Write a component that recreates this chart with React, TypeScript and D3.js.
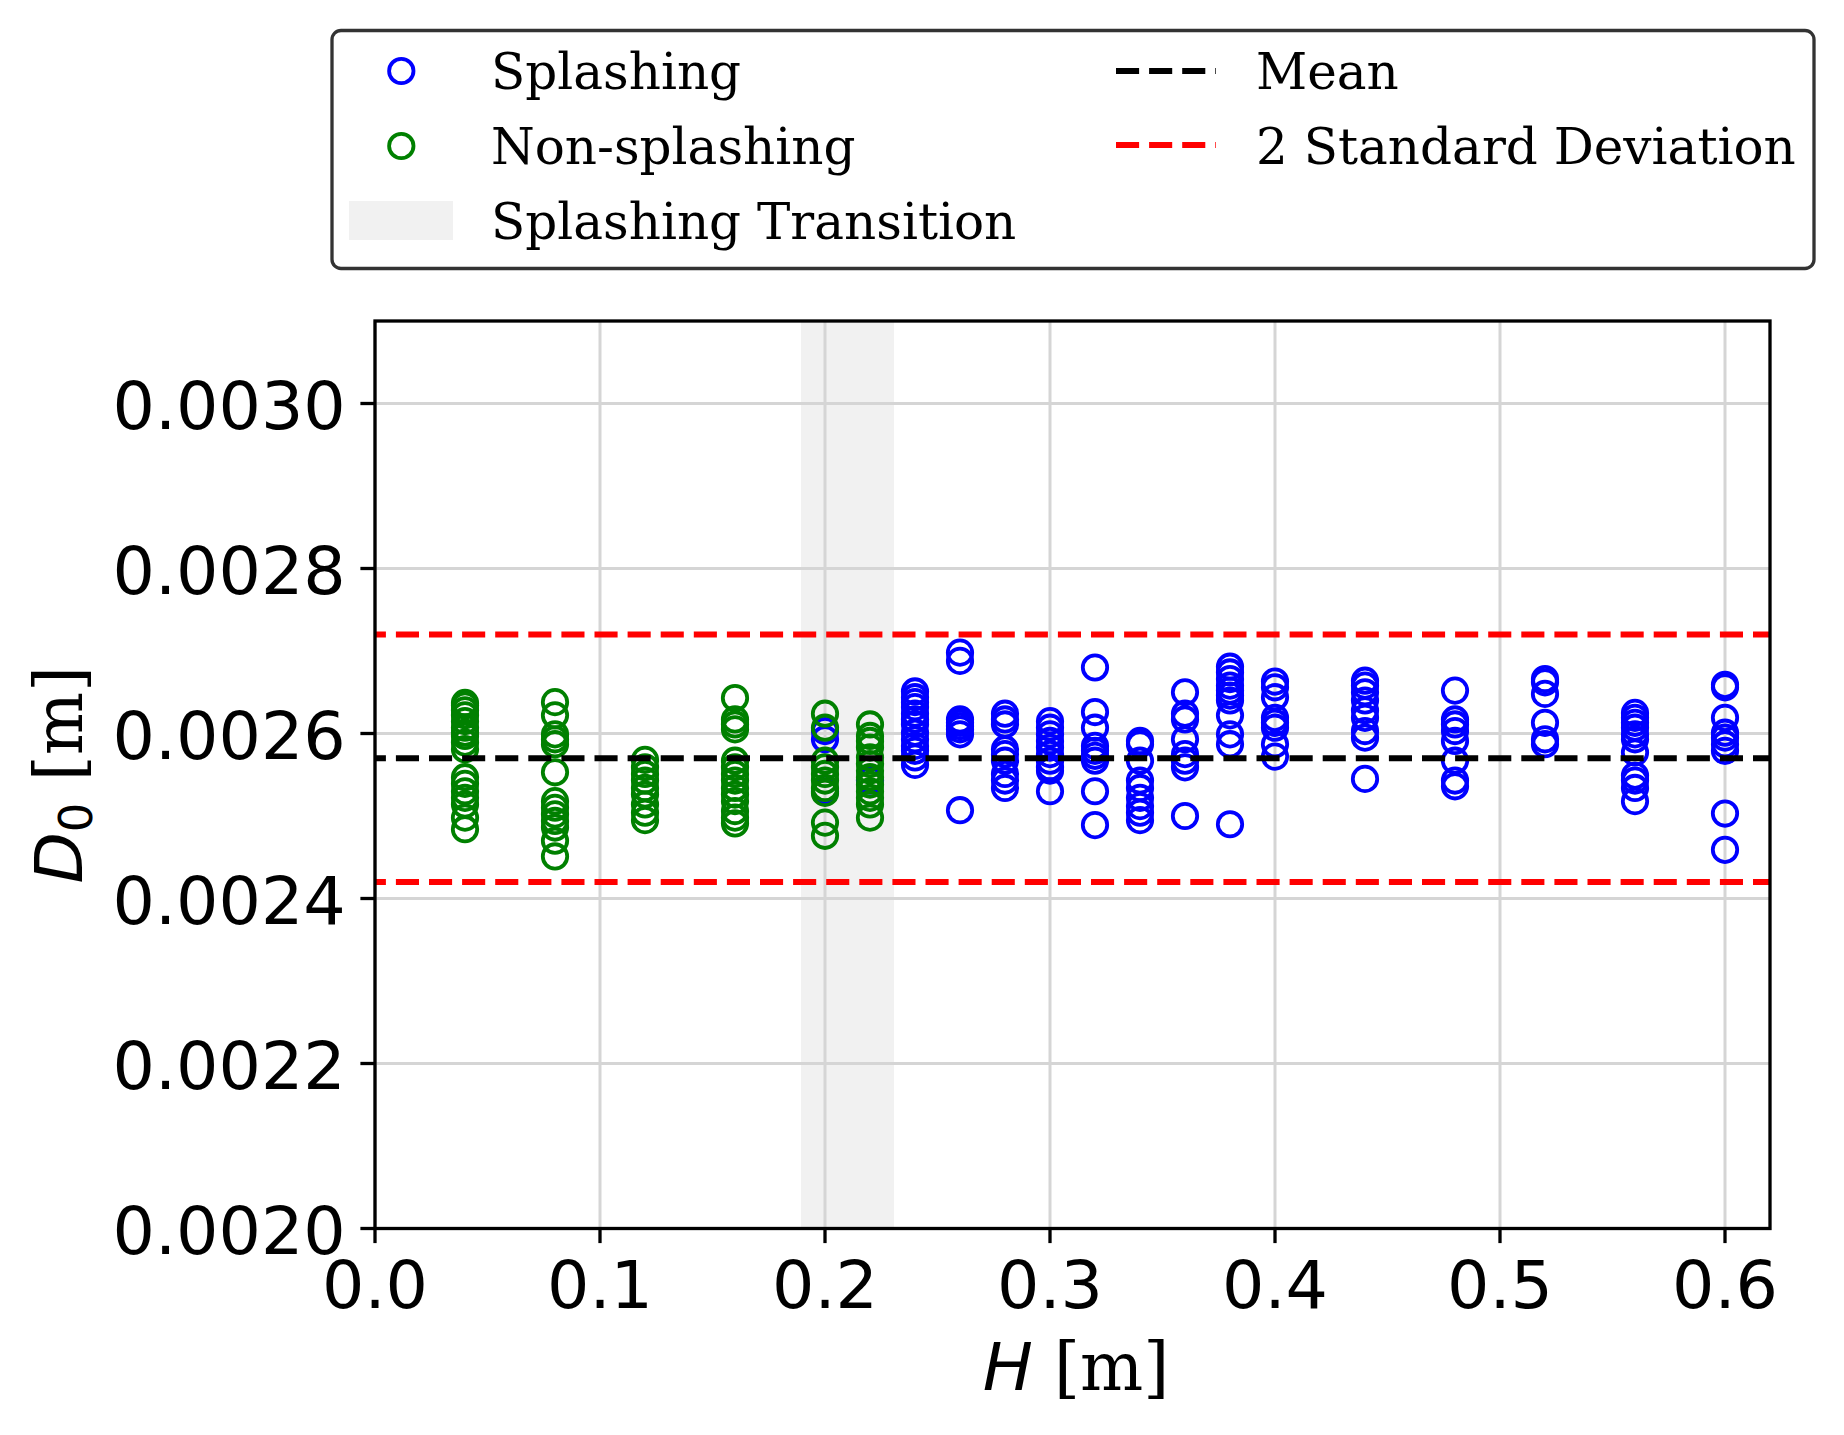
import React from "react";
import * as d3 from "d3";

// ---------- data ----------
const xTicks = [0, 0.1, 0.2, 0.3, 0.4, 0.5, 0.6];
const yTicks = [0.002, 0.0022, 0.0024, 0.0026, 0.0028, 0.003];
const xDomain = [0, 0.62];
const yDomain = [0.002, 0.0031];
const transitionSpan = [0.19, 0.23];
const meanD = 0.00257;
const upper2SD = 0.00272;
const lower2SD = 0.00242;

// Non-splashing heights and D0 values (x1e-3 m)
const nonSplashH = [0.04, 0.08, 0.12, 0.16, 0.2, 0.22];
const nonSplashD = [
  [2.637, 2.634, 2.628, 2.622, 2.615, 2.607, 2.601, 2.597, 2.589, 2.581, 2.547, 2.539, 2.53, 2.522, 2.514, 2.498, 2.484],
  [2.638, 2.622, 2.599, 2.593, 2.587, 2.553, 2.518, 2.51, 2.502, 2.494, 2.486, 2.47, 2.451],
  [2.568, 2.559, 2.551, 2.543, 2.534, 2.526, 2.514, 2.504, 2.495],
  [2.643, 2.617, 2.611, 2.605, 2.567, 2.559, 2.551, 2.543, 2.534, 2.526, 2.518, 2.506, 2.498, 2.491],
  [2.624, 2.607, 2.567, 2.559, 2.551, 2.543, 2.534, 2.528, 2.492, 2.476],
  [2.611, 2.597, 2.591, 2.583, 2.571, 2.563, 2.555, 2.547, 2.538, 2.53, 2.522, 2.514, 2.498],
];

// Splashing heights and D0 values (x1e-3 m)
const splashH = [0.2, 0.22, 0.24, 0.26, 0.28, 0.3, 0.32, 0.34, 0.36, 0.38, 0.4, 0.44, 0.48, 0.52, 0.56, 0.6];
const splashD = [
  [2.603, 2.593, 2.53],
  [2.543],
  [2.651, 2.644, 2.638, 2.632, 2.624, 2.617, 2.611, 2.601, 2.593, 2.585, 2.579, 2.571, 2.562],
  [2.698, 2.688, 2.617, 2.613, 2.609, 2.605, 2.599, 2.507],
  [2.624, 2.617, 2.611, 2.581, 2.575, 2.567, 2.551, 2.543, 2.534],
  [2.615, 2.607, 2.599, 2.591, 2.583, 2.575, 2.567, 2.559, 2.555, 2.53],
  [2.68, 2.626, 2.607, 2.585, 2.579, 2.573, 2.567, 2.53, 2.489],
  [2.591, 2.587, 2.567, 2.543, 2.534, 2.522, 2.512, 2.504, 2.495],
  [2.65, 2.624, 2.617, 2.593, 2.575, 2.567, 2.559, 2.5],
  [2.681, 2.674, 2.666, 2.658, 2.652, 2.646, 2.64, 2.622, 2.599, 2.587, 2.49],
  [2.663, 2.656, 2.644, 2.619, 2.613, 2.607, 2.587, 2.572],
  [2.664, 2.658, 2.65, 2.64, 2.628, 2.619, 2.603, 2.595, 2.545],
  [2.652, 2.617, 2.611, 2.603, 2.591, 2.567, 2.543, 2.536],
  [2.666, 2.662, 2.648, 2.613, 2.593, 2.587],
  [2.625, 2.619, 2.613, 2.607, 2.599, 2.593, 2.577, 2.549, 2.543, 2.534, 2.518],
  [2.659, 2.656, 2.619, 2.601, 2.595, 2.587, 2.579, 2.503, 2.459],
];

const legendLeft = ["Splashing", "Non-splashing", "Splashing Transition"];
const legendRight = ["Mean", "2 Standard Deviation"];

// ---------- layout ----------
const W = 1844;
const H = 1435;
const L = 375, R = 1770, T = 321, B = 1228.5;
const SANS = "'DejaVu Sans', sans-serif";
const SERIF = "'DejaVu Serif', serif";
const BLUE = "#0000ff";
const GREEN = "#008000";
const DASH = "23.1 10";

function flatten(hs: number[], ds: number[][]) {
  const out: { h: number; d: number }[] = [];
  hs.forEach((h, i) => ds[i].forEach((v) => out.push({ h, d: v / 1000 })));
  return out;
}

export default function App() {
  const x = d3.scaleLinear().domain(xDomain).range([L, R]);
  const y = d3.scaleLinear().domain(yDomain).range([B, T]);
  const splashPts = flatten(splashH, splashD);
  const nonPts = flatten(nonSplashH, nonSplashD);
  const rowY = [71, 146, 221];

  return (
    <svg width={W} height={H} style={{ position: "absolute", left: 0, top: 0, background: "#fff" }}>
      <rect x={0} y={0} width={W} height={H} fill="#fff" />
      {/* transition span */}
      <rect
        x={x(transitionSpan[0]) - 1.5}
        y={T}
        width={x(transitionSpan[1]) - x(transitionSpan[0]) + 3}
        height={B - T}
        fill="#f1f1f1"
      />
      {/* grid */}
      {xTicks.map((t) => (
        <line key={"gx" + t} x1={x(t)} x2={x(t)} y1={T} y2={B} stroke="#d5d5d5" strokeWidth={3} />
      ))}
      {yTicks.map((t) => (
        <line key={"gy" + t} x1={L} x2={R} y1={y(t)} y2={y(t)} stroke="#d5d5d5" strokeWidth={3} />
      ))}
      {/* scatter */}
      {splashPts.map((p, i) => (
        <circle key={"s" + i} cx={x(p.h)} cy={y(p.d)} r={12.2} fill="none" stroke={BLUE} strokeWidth={3.8} />
      ))}
      {nonPts.map((p, i) => (
        <circle key={"n" + i} cx={x(p.h)} cy={y(p.d)} r={12.2} fill="none" stroke={GREEN} strokeWidth={3.8} />
      ))}
      {/* reference lines */}
      <line x1={L} x2={R} y1={y(meanD)} y2={y(meanD)} stroke="#000" strokeWidth={6} strokeDasharray={DASH} strokeDashoffset={12.2} />
      <line x1={L} x2={R} y1={y(upper2SD)} y2={y(upper2SD)} stroke="#ff0000" strokeWidth={6} strokeDasharray={DASH} strokeDashoffset={12.2} />
      <line x1={L} x2={R} y1={y(lower2SD)} y2={y(lower2SD)} stroke="#ff0000" strokeWidth={6} strokeDasharray={DASH} strokeDashoffset={12.2} />
      {/* spines */}
      <rect x={L} y={T} width={R - L} height={B - T} fill="none" stroke="#000" strokeWidth={3.3} />
      {/* ticks */}
      {xTicks.map((t) => (
        <g key={"tx" + t}>
          <line x1={x(t)} x2={x(t)} y1={B} y2={B + 14.6} stroke="#000" strokeWidth={3.3} />
          <text x={x(t)} y={1308} textAnchor="middle" fontFamily={SANS} fontSize={66.7} fill="#000">
            {t.toFixed(1)}
          </text>
        </g>
      ))}
      {yTicks.map((t) => (
        <g key={"ty" + t}>
          <line x1={L - 14.6} x2={L} y1={y(t)} y2={y(t)} stroke="#000" strokeWidth={3.3} />
          <text x={345.8} y={y(t) + 25.5} textAnchor="end" fontFamily={SANS} fontSize={66.7} fill="#000">
            {t.toFixed(4)}
          </text>
        </g>
      ))}
      {/* axis labels */}
      <text x={(L + R) / 2 + 3.5} y={1390} textAnchor="middle" fontSize={66.7} fill="#000">
        <tspan fontFamily={SANS} fontStyle="italic">H</tspan>
        <tspan fontFamily={SERIF}> [m]</tspan>
      </text>
      <text transform={`translate(82, ${(T + B) / 2}) rotate(-90)`} textAnchor="middle" fontSize={66.7} fill="#000">
        <tspan fontFamily={SANS} fontStyle="italic">D</tspan>
        <tspan fontFamily={SANS} fontSize={46.7} dy={10}>0</tspan>
        <tspan fontFamily={SERIF} dy={-10}> [m]</tspan>
      </text>
      {/* legend */}
      <rect x={332} y={30.5} width={1814 - 332} height={268.5 - 30.5} rx={9} ry={9} fill="#fff" stroke="#333" strokeWidth={3.3} />
      <circle cx={401.3} cy={rowY[0]} r={12.2} fill="none" stroke={BLUE} strokeWidth={3.8} />
      <circle cx={401.3} cy={rowY[1]} r={12.2} fill="none" stroke={GREEN} strokeWidth={3.8} />
      <rect x={349} y={201} width={104} height={39} fill="#f1f1f1" />
      {legendLeft.map((s, i) => (
        <text key={"ll" + i} x={491} y={rowY[i] + 17.5} fontFamily={SERIF} fontSize={50} fill="#000">
          {s}
        </text>
      ))}
      <line x1={1116} x2={1216} y1={rowY[0]} y2={rowY[0]} stroke="#000" strokeWidth={6} strokeDasharray={DASH} />
      <line x1={1116} x2={1216} y1={rowY[1] - 1} y2={rowY[1] - 1} stroke="#ff0000" strokeWidth={6} strokeDasharray={DASH} />
      {legendRight.map((s, i) => (
        <text key={"lr" + i} x={1256} y={rowY[i] + 17.5} fontFamily={SERIF} fontSize={50} fill="#000">
          {s}
        </text>
      ))}
    </svg>
  );
}
